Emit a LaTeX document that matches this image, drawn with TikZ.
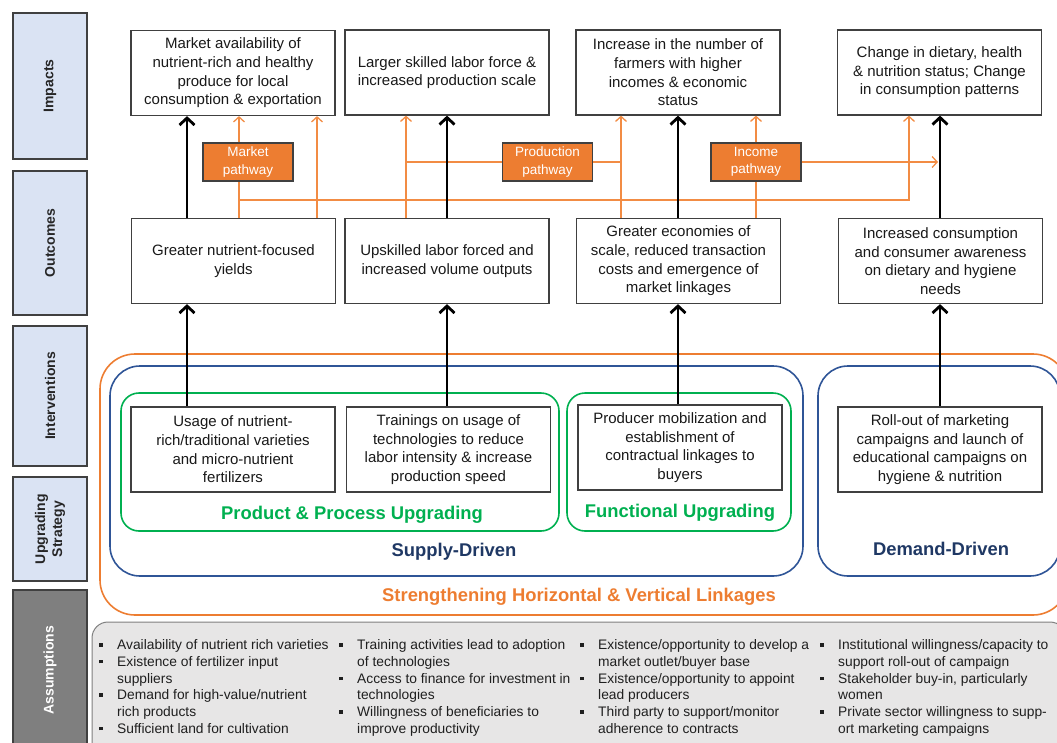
\documentclass[tikz,border=0pt]{standalone}
\usepackage{fontspec}
\setmainfont{Liberation Sans}
\usepackage{xcolor}
\usetikzlibrary{arrows.meta, positioning}

\definecolor{lblue}{HTML}{DAE3F3}
\definecolor{boxgray}{HTML}{404040}
\definecolor{pworange}{HTML}{ED7D31}
\definecolor{lnorange}{HTML}{F28C44}
\definecolor{sdblue}{HTML}{2F5597}
\definecolor{sdnavy}{HTML}{1F3864}
\definecolor{upgreen}{HTML}{00B050}
\definecolor{asmfill}{HTML}{E7E6E6}
\definecolor{asmgray}{HTML}{7F7F7F}

\newcommand\bul{\makebox[18pt][l]{\rule[3pt]{3.6pt}{3.6pt}}}
\newcommand\ind{\hspace*{18pt}}

\tikzset{
  lbl/.style={draw=boxgray, line width=1.2pt, fill=lblue, rotate=90, minimum width=#1, minimum height=74, align=center, font=\fontsize{14}{17}\selectfont\bfseries, text=black!85},
  box/.style={draw=boxgray, line width=1.2pt, fill=white, minimum width=204, minimum height=85, align=center, inner sep=1pt, font=\fontsize{15}{18.6}\selectfont, text=black!90},
  pwbox/.style={draw=boxgray, line width=1.2pt, fill=pworange, minimum width=90, minimum height=38, align=center, inner sep=1pt, text=white, font=\fontsize{13.5}{17.5}\selectfont},
  blk/.style={line width=2.8pt, -{Straight Barb[length=7pt, width=15pt]}},
  orl/.style={draw=lnorange, line width=1.3pt},
  ora/.style={orl, -{Straight Barb[length=5pt, width=11pt]}},
  grp/.style={line width=1.6pt, rounded corners=#1},
  grplbl/.style={font=\fontsize{18.4}{20}\selectfont\bfseries},
  asm/.style={anchor=north west, align=left, inner sep=0pt, font=\fontsize{13.8}{16.75}\selectfont, text=black!88}
}

\begin{document}
\begin{tikzpicture}[x=1pt, y=-1pt]
\useasboundingbox (0,0) rectangle (1057,742);
\clip (0,0) rectangle (1057,742);

\node[lbl=146] (limp) at (50,86) {Impacts};
\node[lbl=144] (lout) at (50,243) {Outcomes};
\node[lbl=140] (lint) at (50,396) {Interventions};
\node[lbl=104] (lupg) at (50,529) {Upgrading\\Strategy};
\node[lbl=160, fill=asmgray, text=white] (lasm) at (50,670) {Assumptions};

\draw[grp=35, draw=pworange] (100,354) rectangle (1068,615);
\draw[grp=30, draw=sdblue] (110,366) rectangle (803,576);
\draw[grp=30, draw=sdblue] (818,366) rectangle (1060,576);
\draw[grp=18, draw=upgreen] (121,393) rectangle (559,531);
\draw[grp=18, draw=upgreen] (567,393) rectangle (791,531);

\node[grplbl, text=upgreen] (ppu) at (352,515) {Product \& Process Upgrading};
\node[grplbl, text=upgreen] (fu) at (680,513) {Functional Upgrading};
\node[grplbl, text=sdnavy] (sd) at (454,552) {Supply-Driven};
\node[grplbl, text=sdnavy] (dd) at (941,549) {Demand-Driven};
\node[grplbl, text=pworange] (shv) at (579,597) {Strengthening Horizontal \& Vertical Linkages};

\node[box] (imp1) at (233,73) {Market availability of\\nutrient-rich and healthy\\produce for local\\consumption \& exportation};
\node[box] (imp2) at (447,72.5) {Larger skilled labor force \&\\increased production scale};
\node[box] (imp3) at (678,72.5) {Increase in the number of\\farmers with higher\\incomes \& economic\\status};
\node[box] (imp4) at (939.5,72.5) {Change in dietary, health\\\& nutrition status; Change\\in consumption patterns};

\node[box] (out1) at (233.5,261) {Greater nutrient-focused\\yields};
\node[box] (out2) at (447,261) {Upskilled labor forced and\\increased volume outputs};
\node[box] (out3) at (678.5,261) {Greater economies of\\scale, reduced transaction\\costs and emergence of\\market linkages};
\node[box] (out4) at (940.5,261) {Increased consumption\\and consumer awareness\\on dietary and hygiene\\needs};

\node[box] (int1) at (233,449.5) {Usage of nutrient-\\rich/traditional varieties\\and micro-nutrient\\fertilizers};
\node[box] (int2) at (448.5,449.5) {Trainings on usage of\\technologies to reduce\\labor intensity \& increase\\production speed};
\node[box] (int3) at (680,447.5) {Producer mobilization and\\establishment of\\contractual linkages to\\buyers};
\node[box] (int4) at (940,449.5) {Roll-out of marketing\\campaigns and launch of\\educational campaigns on\\hygiene \& nutrition};

\node[pwbox] (mkt) at (248,162) {Market\\pathway};
\node[pwbox] (prod) at (547.5,162) {Production\\pathway};
\node[pwbox] (inc) at (756,162) {Income\\pathway};

\coordinate (a1) at (187,0);
\coordinate (a2) at (447,0);
\coordinate (a3) at (678,0);
\coordinate (a4) at (940,0);
\coordinate (m1) at (239,0);
\coordinate (m2) at (317,0);
\coordinate (p1) at (406,0);
\coordinate (p2) at (621,0);
\coordinate (r1) at (909,200);

\draw[orl] (out1.north -| m1) -- (mkt.south -| m1);
\draw[ora] (mkt.north -| m1) -- (imp1.south -| m1);
\draw[ora] (out1.north -| m2) -- (imp1.south -| m2);
\draw[ora] (m1 |- r1) -- (r1) -- (imp4.south -| r1);
\draw[ora] (out2.north -| p1) -- (imp2.south -| p1);
\draw[ora] (out3.north -| p2) -- (imp3.south -| p2);
\draw[orl] (prod.west) -- (prod.west -| p1);
\draw[orl] (prod.east) -- (prod.east -| p2);
\draw[orl] (out3.north -| inc.south) -- (inc.south);
\draw[ora] (inc.north) -- (imp3.south -| inc.north);
\draw[ora, shorten >=2pt] (inc.east) -- (inc.east -| a4);

\draw[blk] (out1.north -| a1) -- (imp1.south -| a1);
\draw[blk] (out2.north -| a2) -- (imp2.south -| a2);
\draw[blk] (out3.north -| a3) -- (imp3.south -| a3);
\draw[blk] (out4.north -| a4) -- (imp4.south -| a4);
\draw[blk] (int1.north -| a1) -- (out1.south -| a1);
\draw[blk] (int2.north -| a2) -- (out2.south -| a2);
\draw[blk] (int3.north -| a3) -- (out3.south -| a3);
\draw[blk] (int4.north -| a4) -- (out4.south -| a4);

\draw[draw=asmgray, fill=asmfill, line width=1pt, rounded corners=16] (92,622) rectangle (1066,770);
\node[asm] (asm1) at (99,639.5) {\bul Availability of nutrient rich varieties\\\bul Existence of fertilizer input\\\ind suppliers\\\bul Demand for high-value/nutrient\\\ind rich products\\\bul Sufficient land for cultivation};
\node[asm] (asm2) at (339,639.5) {\bul Training activities lead to adoption\\\ind of technologies\\\bul Access to finance for investment in\\\ind technologies\\\bul Willingness of beneficiaries to\\\ind improve productivity};
\node[asm] (asm3) at (580,639.5) {\bul Existence/opportunity to develop a\\\ind market outlet/buyer base\\\bul Existence/opportunity to appoint\\\ind lead producers\\\bul Third party to support/monitor\\\ind adherence to contracts};
\node[asm] (asm4) at (820,639.5) {\bul Institutional willingness/capacity to\\\ind support roll-out of campaign\\\bul Stakeholder buy-in, particularly\\\ind women\\\bul Private sector willingness to supp-\\\ind ort marketing campaigns};
\end{tikzpicture}
\end{document}
